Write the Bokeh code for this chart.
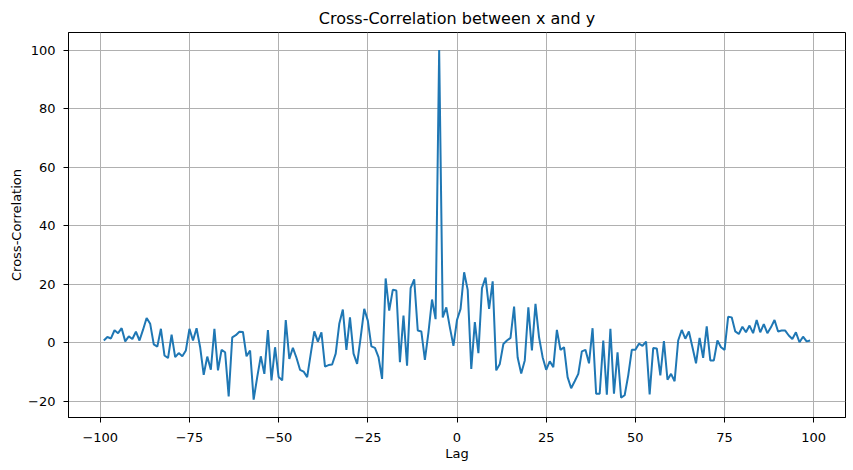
from bokeh.plotting import figure
from bokeh.models import FixedTicker, Range1d
from bokeh.embed import file_html
from bokeh.resources import INLINE

lags = list(range(-99, 100))
xcorr = [
    0.8, 2.0, 1.5, 4.3, 3.3, 5.0, 0.5, 2.2, 1.3, 3.8,
    0.8, 4.5, 8.5, 6.5, -0.5, -1.3, 4.8, -4.3, -5.2, 2.8,
    -4.9, -3.5, -4.6, -2.6, 4.8, 0.8, 5.0, -1.5, -10.9, -4.7,
    -9.2, 4.8, -9.4, -2.4, -3.2, -18.3, 1.9, 2.6, 3.8, 3.7,
    -4.6, -2.6, -19.4, -11.7, -4.6, -10.6, 4.4, -12.8, -1.5, -11.7,
    -12.8, 7.8, -5.5, -1.7, -5.1, -9.2, -9.8, -11.7, -3.8, 3.9,
    0.4, 3.6, -8.1, -7.6, -7.4, -3.7, 6.5, 11.4, -2.4, 8.7,
    -3.7, -7.2, 1.9, 11.6, 7.6, -1.2, -1.7, -4.9, -12.3, 22.0,
    11.0, 18.1, 17.9, -6.6, 9.3, -7.8, 18.7, 21.7, 4.2, 3.9,
    -5.8, 3.6, 14.8, 8.1, 100.0, 8.7, 12.1, 5.3, -1.0, 7.8,
    11.6, 24.1, 18.1, -8.9, 7.1, -3.5, 18.7, 22.3, 11.6, 21.0,
    -9.4, -7.2, -0.4, 0.8, 1.7, 12.4, -5.0, -10.5, -6.0, 12.1,
    -2.6, 13.3, 1.9, -4.9, -9.2, -6.3, -8.3, 4.4, -2.4, -1.5,
    -11.7, -15.5, -13.1, -10.6, -2.9, -2.4, -7.0, 5.0, -17.4, -17.4,
    0.8, -17.7, 4.8, -17.4, -3.2, -18.7, -17.9, -11.1, -2.4, -2.4,
    -0.3, -1.0, 0.4, -17.6, -1.8, -1.9, -11.1, 0.6, -12.6, -10.6,
    -13.1, 0.8, 4.4, 1.4, 3.9, -1.5, -7.0, 1.7, -5.1, 5.6,
    -6.0, -6.0, 0.8, -1.5, -2.4, 8.9, 8.7, 3.9, 3.0, 5.5,
    3.6, 5.9, 3.3, 7.8, 3.6, 6.4, 3.3, 5.3, 7.8, 3.9,
    4.2, 4.2, 2.5, 1.3, 3.6, 0.2, 2.1, 0.5, 0.8,
]
assert len(xcorr) == len(lags)

x_ticks = [-100, -75, -50, -25, 0, 25, 50, 75, 100]
y_ticks = [-20, 0, 20, 40, 60, 80, 100]

p = figure(width=853, height=470, output_backend="svg", toolbar_location=None,
           title="Cross-Correlation between x and y",
           x_range=Range1d(-108.9, 108.9), y_range=Range1d(-25.5, 106.0),
           min_border_left=68, min_border_right=8, min_border_top=32,
           min_border_bottom=53)

p.line(lags, xcorr, line_color="#1f77b4", line_width=2)

p.title.align = "center"
p.title.text_font = "DejaVu Sans"
p.title.text_font_size = "16px"
p.title.text_font_style = "normal"
p.title.text_color = "black"

p.xaxis.ticker = FixedTicker(ticks=x_ticks)
p.yaxis.ticker = FixedTicker(ticks=y_ticks)
p.xaxis.axis_label = "Lag"
p.yaxis.axis_label = "Cross-Correlation"
for ax in (p.xaxis, p.yaxis):
    ax.axis_label_text_font = "DejaVu Sans"
    ax.axis_label_text_font_size = "13px"
    ax.axis_label_text_font_style = "normal"
    ax.axis_label_text_color = "black"
    ax.axis_label_text_line_height = 1.0
    ax.major_label_text_font = "DejaVu Sans"
    ax.major_label_text_font_size = "13px"
    ax.major_label_text_color = "black"
    ax.major_label_text_line_height = 1.0
    ax.minor_tick_line_color = None
    ax.major_tick_in = 0
    ax.major_tick_out = 5
    ax.major_tick_line_color = "black"
    ax.axis_line_color = "black"

p.xaxis.major_label_standoff = 10
p.xaxis.axis_label_standoff = 1
p.yaxis.major_label_standoff = 8
p.yaxis.axis_label_standoff = 1

p.outline_line_color = "black"
p.outline_line_alpha = 1
p.grid.grid_line_color = "#b0b0b0"
p.grid.grid_line_width = 1
p.grid.grid_line_alpha = 1
p.background_fill_color = "white"
p.border_fill_color = "white"

open("out.html", "w").write(file_html(p, INLINE))
